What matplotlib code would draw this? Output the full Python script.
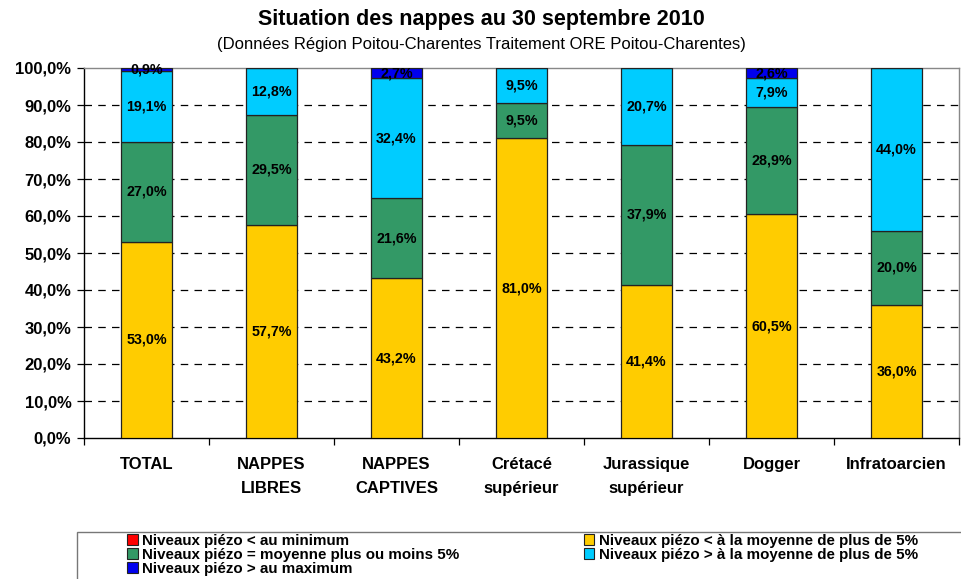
import matplotlib
matplotlib.use("Agg")
import matplotlib.pyplot as plt
from matplotlib.patches import Rectangle, Patch
import numpy as np

plt.rcParams['font.family'] = ['Liberation Sans', 'DejaVu Sans']

categories = ["TOTAL", "NAPPES\nLIBRES", "NAPPES\nCAPTIVES", "Crétacé\nsupérieur",
              "Jurassique\nsupérieur", "Dogger", "Infratoarcien"]
series_names = ["Niveaux piézo < au minimum",
                "Niveaux piézo < à la moyenne de plus de 5%",
                "Niveaux piézo = moyenne plus ou moins 5%",
                "Niveaux piézo > à la moyenne de plus de 5%",
                "Niveaux piézo > au maximum"]
minimum = [0, 0, 0, 0, 0, 0, 0]
below5 = [53.0, 57.7, 43.2, 81.0, 41.4, 60.5, 36.0]
mean5 = [27.0, 29.5, 21.6, 9.5, 37.9, 28.9, 20.0]
above5 = [19.1, 12.8, 32.4, 9.5, 20.7, 7.9, 44.0]
maximum = [0.9, 0, 2.7, 0, 0, 2.6, 0]
colors = ["#FF0000", "#FFCC00", "#339966", "#00CCFF", "#0000EE"]

title = "Situation des nappes au 30 septembre 2010"
subtitle = "(Données Région Poitou-Charentes Traitement ORE Poitou-Charentes)"

fig = plt.figure(figsize=(9.62, 5.79), dpi=100)
ax = fig.add_axes([84/962, 1-438/579, 875/962, 370/579])

x = np.arange(len(categories))
series = [minimum, below5, mean5, above5, maximum]
bottom = np.zeros(len(categories))
for vals, col in zip(series, colors):
    v = np.array(vals, dtype=float)
    ax.bar(x, v, width=0.41, bottom=bottom, color=col, edgecolor='#222222',
           linewidth=0.9, zorder=3)
    for xi, (b, h) in enumerate(zip(bottom, v)):
        if h > 0:
            ax.text(xi, b + h/2, f"{h:.1f}%".replace('.', ','), ha='center',
                    va='center', fontsize=10.3, fontweight='bold', zorder=4)
    bottom += v

ax.set_xlim(-0.5, len(categories) - 0.5)
ax.set_ylim(0, 100)
yt = np.arange(0, 101, 10)
ax.set_yticks(yt)
ax.set_yticklabels([f"{t:.1f}%".replace('.', ',') for t in yt],
                   fontsize=12, fontweight='bold')
for t in yt[1:-1]:
    ax.axhline(t, color='black', linestyle=(0, (6, 5)), linewidth=0.9, zorder=1)
ax.set_xticks(x)
ax.set_xticklabels(categories, fontsize=12, fontweight='bold', linespacing=1.7)
ax.set_xticks(np.arange(-0.5, len(categories)), minor=True)
ax.tick_params(axis='x', which='major', length=0, pad=14)
ax.tick_params(axis='x', which='minor', length=5, width=0.9, direction='out')
ax.tick_params(axis='y', length=5, width=0.9, direction='out', pad=4)
for lab in ax.get_xticklabels():
    lab.set_verticalalignment('top')
ax.spines['left'].set_color('black')
ax.spines['bottom'].set_color('black')
ax.spines['top'].set_color('#888888')
ax.spines['right'].set_color('#888888')
for s in ax.spines.values():
    s.set_linewidth(1.0)

fig.text(0.5, 1-20/579, title, ha='center', va='center', fontsize=15.5,
         fontweight='bold')
fig.text(0.5, 1-45/579, subtitle, ha='center', va='center', fontsize=12)

fig.patches.append(Rectangle((77/962, -0.05), 1.0, (579-532)/579 + 0.05,
                             transform=fig.transFigure, facecolor='white',
                             edgecolor='#777777', linewidth=1.0, zorder=0))
handles = [Patch(facecolor=colors[i], edgecolor='#222222', linewidth=0.8,
                 label=series_names[i]) for i in [0, 2, 4, 1, 3]]
leg = fig.legend(handles=handles, ncol=2, frameon=False,
                 loc='upper left', bbox_to_anchor=(127/962, 1-534/579),
                 prop={'size': 10.9, 'weight': 'bold'}, handlelength=0.7,
                 handleheight=0.7, handletextpad=0.3, labelspacing=0.0,
                 columnspacing=8.2, borderpad=0, borderaxespad=0)

fig.savefig("out.png", dpi=100)
